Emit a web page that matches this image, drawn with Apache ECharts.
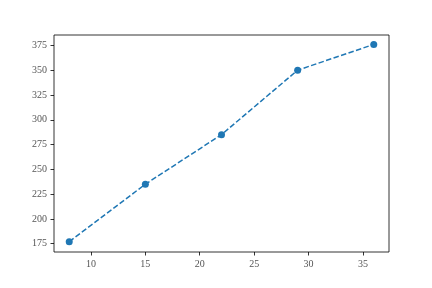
<!DOCTYPE html>
<html>
<head>
<meta charset="utf-8">
<script src="https://cdn.jsdelivr.net/npm/echarts@6/dist/echarts.min.js"></script>
<style>html,body{margin:0;padding:0;background:#fff;}#c{width:432px;height:288px;}</style>
</head>
<body>
<div id="c"></div>
<script>
const xValues = [8, 15, 22, 29, 36];
const yValues = [177, 235, 285, 350, 376];
const xTicks = [10, 15, 20, 25, 30, 35];
const yTicks = [175, 200, 225, 250, 275, 300, 325, 350, 375];

const chart = echarts.init(document.getElementById('c'), null, {renderer: 'canvas'});
const labelStyle = {color: '#555', fontFamily: 'Liberation Serif', fontSize: 10, margin: 7};
chart.setOption({
  animation: false,
  backgroundColor: '#fff',
  grid: {left: 54, right: 43, top: 35, bottom: 36, show: true, borderColor: '#000', borderWidth: 0.8, backgroundColor: 'transparent'},
  xAxis: {
    type: 'value', min: 6.6, max: 37.4,
    axisLine: {show: false},
    splitLine: {show: false},
    axisTick: {show: true, length: 3.5, lineStyle: {color: '#000', width: 0.8}, customValues: xTicks},
    axisLabel: Object.assign({customValues: xTicks}, labelStyle)
  },
  yAxis: {
    type: 'value', min: 166.6, max: 385.5,
    axisLine: {show: false},
    splitLine: {show: false},
    axisTick: {show: true, length: 3.5, lineStyle: {color: '#000', width: 0.8}, customValues: yTicks},
    axisLabel: Object.assign({customValues: yTicks}, labelStyle)
  },
  series: [{
    type: 'line',
    data: xValues.map((x, i) => [x, yValues[i]]),
    symbol: 'circle', symbolSize: 7,
    itemStyle: {color: '#1f77b4'},
    lineStyle: {color: '#1f77b4', width: 1.5, type: [5.5, 2.4]}
  }]
});
</script>
</body>
</html>
